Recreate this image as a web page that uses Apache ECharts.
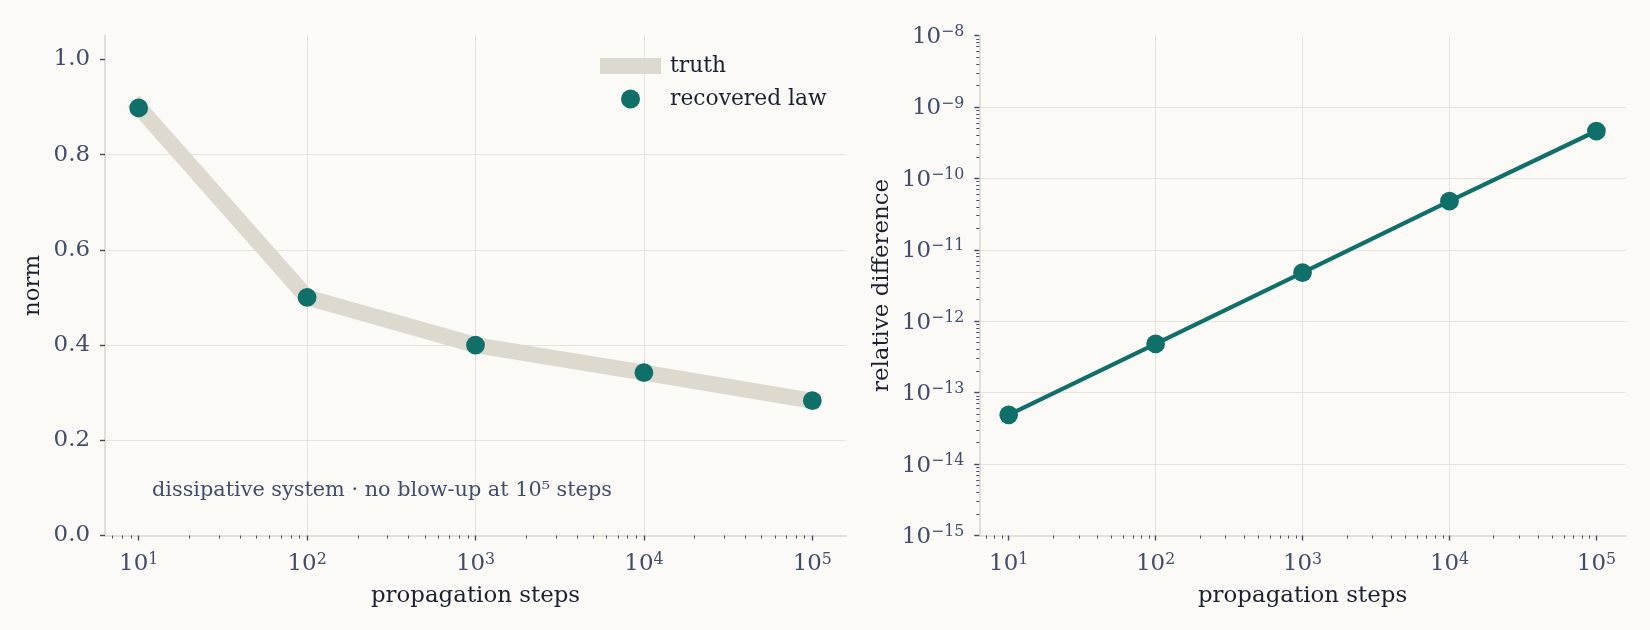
<!DOCTYPE html>
<html><head><meta charset="utf-8">
<script src="https://cdn.jsdelivr.net/npm/echarts@6/dist/echarts.min.js"></script>
<style>html,body{margin:0;padding:0;background:#fbfaf7;}#c{width:1650px;height:630px;}</style>
</head><body><div id="c"></div>
<script>
// ---- data ----
const steps = [10, 100, 1000, 10000, 100000];
const truthNorm = [0.9, 0.5, 0.4, 0.342, 0.283];
const recoveredNorm = [0.898, 0.5, 0.4, 0.342, 0.283];
const relDiff = [4.9e-14, 4.8e-13, 4.8e-12, 4.8e-11, 4.6e-10];
const stepTicks = [10, 100, 1000, 10000, 100000];
const normTicks = [0, 0.2, 0.4, 0.6, 0.8, 1.0];
const diffTicks = [1e-15, 1e-14, 1e-13, 1e-12, 1e-11, 1e-10, 1e-9, 1e-8];
const seriesNames = ['truth', 'recovered law'];
const annotation = 'dissipative system · no blow-up at 10⁵ steps';
const xTitle = 'propagation steps';
const yTitleLeft = 'norm';
const yTitleRight = 'relative difference';

// ---- style ----
const FONT = 'DejaVu Serif';
const BG = '#fbfaf7';
const TEAL = '#0f6f69';
const TRUTH = '#ddd9cf';
const GRID = '#e6e3dc';
const SPINE = '#ddd8ce';
const TICK = '#3f4b69';
const LABEL = '#414d6b';
const TITLE = '#1b2130';
const FS = 22.9;

function supFmt(v) {
  const e = Math.round(Math.log10(v));
  return '{b|10}{s|' + String(e).replace('-', '\u2212') + '}';
}
const rich = {
  b: { fontFamily: FONT, fontSize: FS, lineHeight: 26, color: LABEL },
  s: { fontFamily: FONT, fontSize: 15.8, lineHeight: 16, verticalAlign: 'top', color: LABEL }
};
const pairs = (xs, ys) => xs.map((x, i) => [x, ys[i]]);

function logX(gi) {
  return {
    type: 'log', logBase: 10, gridIndex: gi,
    min: Math.pow(10, 0.8), max: Math.pow(10, 5.2),
    axisLine: { show: true, onZero: false, lineStyle: { color: SPINE, width: 1.6 } },
    axisTick: { show: true, length: 5, lineStyle: { color: TICK, width: 1.4 }, customValues: stepTicks },
    minorTick: { show: true, splitNumber: 9, length: 3, lineStyle: { color: TICK, width: 1 } },
    axisLabel: { customValues: stepTicks, formatter: supFmt, rich: rich, margin: 16, fontFamily: FONT, color: LABEL },
    splitLine: { show: true, showMinLine: false, showMaxLine: false, lineStyle: { color: GRID, width: 1 } },
    minorSplitLine: { show: false },
    name: xTitle, nameLocation: 'middle', nameGap: 49, nameMoveOverlap: false,
    nameTextStyle: { fontFamily: FONT, fontSize: FS, color: TITLE }
  };
}

const option = {
  backgroundColor: BG,
  animation: false,
  textStyle: { fontFamily: FONT },
  grid: [
    { left: 105, top: 35.5, width: 741, height: 500, outerBoundsMode: 'none', containLabel: false },
    { left: 979.3, top: 35.5, width: 646.5, height: 500, outerBoundsMode: 'none', containLabel: false }
  ],
  xAxis: [logX(0), logX(1)],
  yAxis: [
    {
      type: 'value', gridIndex: 0, min: 0, max: 1.05, interval: 0.2,
      axisLine: { show: true, lineStyle: { color: SPINE, width: 1.6 } },
      axisTick: { show: true, length: 5, lineStyle: { color: TICK, width: 1.4 }, customValues: normTicks },
      axisLabel: { customValues: normTicks, formatter: v => v.toFixed(1), margin: 15, padding: [3, 0, 0, 0], fontFamily: FONT, fontSize: FS, color: LABEL },
      splitLine: { show: true, showMinLine: false, showMaxLine: false, lineStyle: { color: GRID, width: 1 } },
      name: yTitleLeft, nameLocation: 'middle', nameGap: 60, nameMoveOverlap: false,
      nameTextStyle: { fontFamily: FONT, fontSize: FS, color: TITLE }
    },
    {
      type: 'log', logBase: 10, gridIndex: 1, min: 1e-15, max: 1e-8, splitNumber: 7,
      axisLine: { show: true, lineStyle: { color: SPINE, width: 1.6 } },
      axisTick: { show: true, length: 5, lineStyle: { color: TICK, width: 1.4 }, customValues: diffTicks },
      minorTick: { show: true, splitNumber: 9, length: 3, lineStyle: { color: TICK, width: 1 } },
      axisLabel: { customValues: diffTicks, formatter: supFmt, rich: rich, margin: 15, padding: [3, 0, 0, 0], fontFamily: FONT, color: LABEL },
      splitLine: { show: true, showMinLine: false, showMaxLine: false, lineStyle: { color: GRID, width: 1 } },
      minorSplitLine: { show: false },
      name: yTitleRight, nameLocation: 'middle', nameGap: 86, nameMoveOverlap: false,
      nameTextStyle: { fontFamily: FONT, fontSize: FS, color: TITLE }
    }
  ],
  legend: [
    {
      data: [{ name: seriesNames[0], icon: 'rect' }], left: 600, top: 55, padding: 0,
      itemWidth: 61, itemHeight: 16, selectedMode: false,
      itemStyle: { borderWidth: 0, color: TRUTH },
      textStyle: { fontFamily: FONT, fontSize: 21.8, color: TITLE, padding: [0, 0, 0, 4] }
    },
    {
      data: [{ name: seriesNames[1], icon: 'circle' }], left: 621, top: 88, padding: 0,
      itemWidth: 19, itemHeight: 19, selectedMode: false,
      itemStyle: { borderWidth: 0, color: TEAL },
      textStyle: { fontFamily: FONT, fontSize: 21.8, color: TITLE, padding: [0, 0, 0, 25] }
    }
  ],
  graphic: [
    {
      type: 'text', x: 152, y: 491, z: 10,
      style: { text: annotation, fontFamily: FONT, fontSize: 20.8, fill: LABEL, verticalAlign: 'middle', align: 'left' }
    }
  ],
  series: [
    {
      name: seriesNames[0], type: 'line', xAxisIndex: 0, yAxisIndex: 0,
      data: pairs(steps, truthNorm), symbol: 'none', z: 2,
      itemStyle: { color: TRUTH },
      lineStyle: { color: TRUTH, width: 16, cap: 'square', join: 'round' }
    },
    {
      name: seriesNames[1], type: 'scatter', xAxisIndex: 0, yAxisIndex: 0,
      data: pairs(steps, recoveredNorm), symbol: 'circle', symbolSize: 18.75, z: 3,
      itemStyle: { color: TEAL, opacity: 1 }
    },
    {
      name: 'relative difference', type: 'line', xAxisIndex: 1, yAxisIndex: 1,
      data: pairs(steps, relDiff), symbol: 'circle', symbolSize: 18.75, showSymbol: true, z: 3,
      itemStyle: { color: TEAL, borderWidth: 0 },
      lineStyle: { color: TEAL, width: 4.2 }
    }
  ]
};
const chart = echarts.init(document.getElementById('c'), null, { renderer: 'canvas' });
chart.setOption(option);
</script></body></html>
